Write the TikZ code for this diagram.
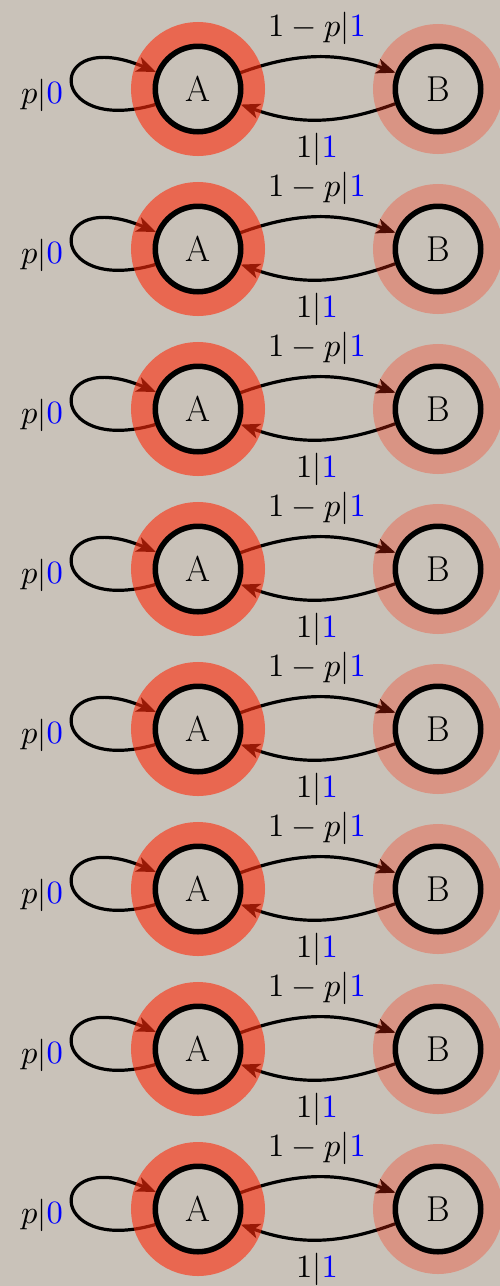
\documentclass[tikz,border=0pt]{standalone}
\usetikzlibrary{arrows.meta}
\definecolor{bgc}{RGB}{201,194,185}
\definecolor{ringc}{RGB}{255,43,10}
\pgfdeclarelayer{bglayer}
\pgfdeclarelayer{edgelayer}
\pgfdeclarelayer{ringlayer}
\pgfsetlayers{bglayer,edgelayer,ringlayer,main}
\tikzset{
  state/.style={circle, draw=black, line width=5.5pt, minimum size=85.5pt, inner sep=0pt,
    font=\fontsize{36}{40}\selectfont},
  trans/.style={line width=3.2pt, -{Stealth[length=19pt,width=15pt,inset=5pt]}},
  lbl/.style={scale=3.25, inner sep=0pt, anchor=base},
  ringA/.style={draw=ringc, draw opacity=0.6, line width=22pt},
  ringB/.style={draw=ringc, draw opacity=0.3, line width=20pt},
  innershade/.style={draw=black, draw opacity=0.12, line width=3pt},
}
\begin{document}
\begin{tikzpicture}[x=1pt,y=1pt]
\begin{pgfonlayer}{bglayer}
  \fill[bgc] (0,0) rectangle (500,-1286);
\end{pgfonlayer}
\useasboundingbox (0,0) rectangle (500,-1286);
\foreach \i in {0,...,7}{
  \pgfmathsetmacro\cy{-89-160*\i}
  \node[state] (A\i) at (198,\cy) {A};
  \node[state] (B\i) at (438,\cy) {B};
  \begin{pgfonlayer}{ringlayer}
    \draw[ringA] (A\i.center) circle[radius=56];
    \draw[ringB] (B\i.center) circle[radius=55];
    \draw[innershade] (A\i.center) circle[radius=41.5];
    \draw[innershade] (B\i.center) circle[radius=41.5];
  \end{pgfonlayer}
  \begin{pgfonlayer}{edgelayer}
    \draw[trans] (A\i.21) to[bend left=20] (B\i.159);
    \draw[trans] (B\i.199) to[bend left=20] (A\i.340);
    \draw[trans] (A\i.200) to[out=196,in=157,out distance=115pt,in distance=120pt] (A\i.158);
  \end{pgfonlayer}
  \node[lbl] (lp\i) at (42,\cy-14) {$p|\textcolor{blue}{0}$};
  \node[lbl] (lt\i) at (317,\cy+53) {$1-p|\textcolor{blue}{1}$};
  \node[lbl] (lb\i) at (317,\cy-68) {$1|\textcolor{blue}{1}$};
}
\end{tikzpicture}
\end{document}
